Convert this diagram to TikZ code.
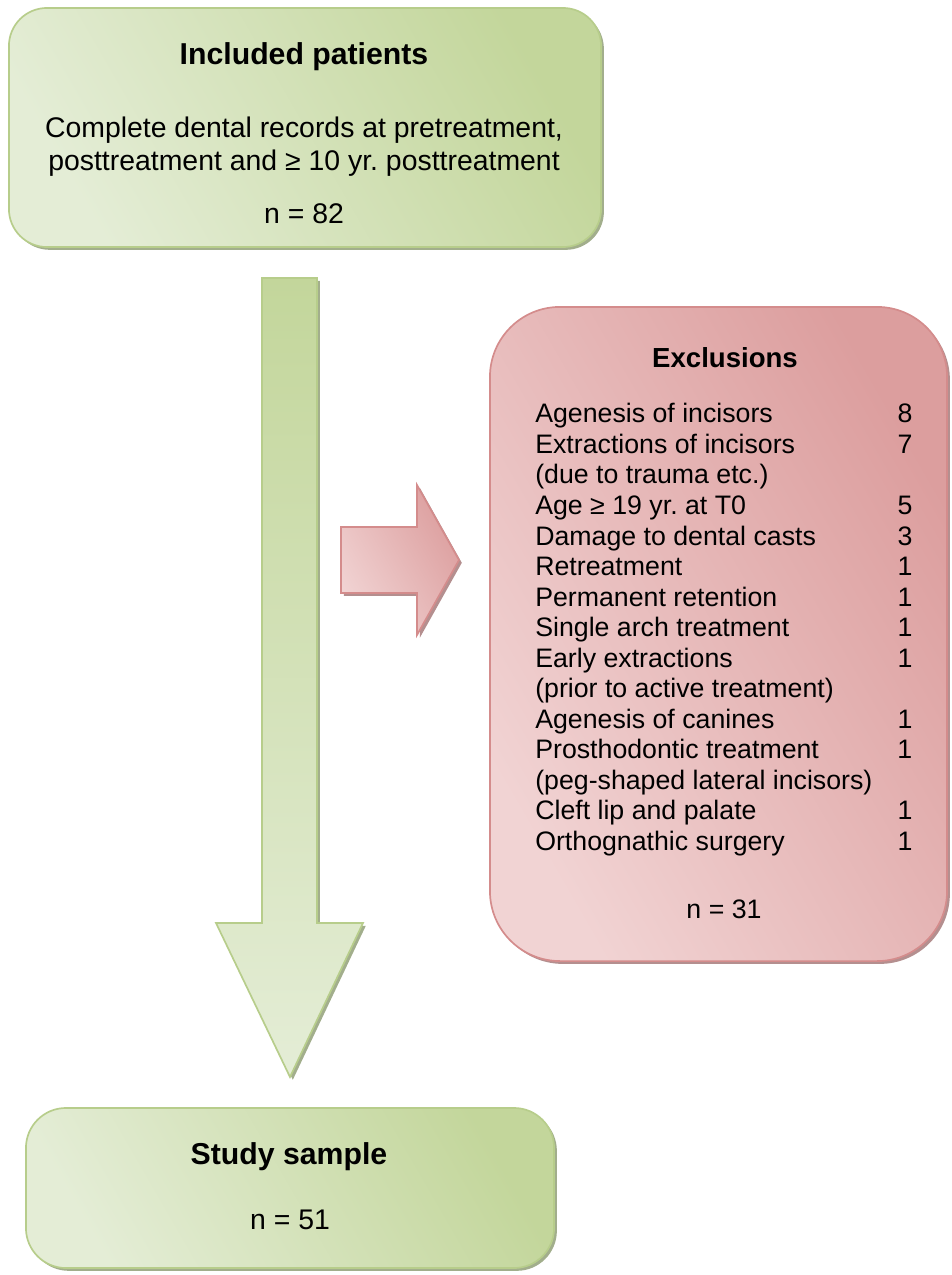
\documentclass[tikz,border=0pt]{standalone}
\usepackage{fontspec}
\setmainfont{Liberation Sans}
\usetikzlibrary{shadows}
\frenchspacing

\definecolor{greenDark}{HTML}{C3D69B}
\definecolor{greenLight}{HTML}{E4EDD6}
\definecolor{greenLine}{HTML}{B7CD8B}
\definecolor{greenShadow}{HTML}{A2AE8C}
\definecolor{redDark}{HTML}{DC9E9E}
\definecolor{redLight}{HTML}{F1D3D3}
\definecolor{redLine}{HTML}{D48C8C}
\definecolor{redShadow}{HTML}{B48F8F}

\tikzset{
    greenbox/.style={draw=greenLine, line width=1.2pt, top color=greenDark, bottom color=greenLight,
        shading angle=-60, drop shadow={shadow xshift=0.07cm, shadow yshift=-0.07cm, fill=greenShadow, opacity=1}},
    redbox/.style={draw=redLine, line width=1.2pt, top color=redDark, bottom color=redLight,
        shading angle=-60, drop shadow={shadow xshift=0.07cm, shadow yshift=-0.07cm, fill=redShadow, opacity=1}},
    greentext/.style={font=\fontsize{20.2}{23}\selectfont, anchor=base, inner sep=0pt},
    greentitle/.style={greentext, font=\fontsize{21.5}{23}\selectfont\bfseries},
    redtext/.style={font=\fontsize{19}{21.7}\selectfont, anchor=base, inner sep=0pt},
    redtitle/.style={redtext, font=\fontsize{19.6}{21.7}\selectfont\bfseries}
}

\begin{document}
\begin{tikzpicture}[x=0.025cm, y=-0.025cm]

    \useasboundingbox (0,0) rectangle (952,1275);

    % Define the arrow points
    \coordinate (DownA) at (262,278);
    \coordinate (DownB) at (317,278);
    \coordinate (DownC) at (317,923);
    \coordinate (DownD) at (363,923);
    \coordinate (DownTip) at (290,1077);
    \coordinate (DownE) at (216,923);
    \coordinate (DownF) at (262,923);

    \coordinate (RightA) at (341,527);
    \coordinate (RightB) at (417,527);
    \coordinate (RightC) at (417,485);
    \coordinate (RightTip) at (459,560);
    \coordinate (RightD) at (417,635);
    \coordinate (RightE) at (417,593);
    \coordinate (RightF) at (341,593);

    % Draw the block arrows
    \path[greenbox, shading angle=0] (DownA) -- (DownB) -- (DownC) -- (DownD) -- (DownTip) -- (DownE) -- (DownF) -- cycle;
    \path[redbox] (RightA) -- (RightB) -- (RightC) -- (RightTip) -- (RightD) -- (RightE) -- (RightF) -- cycle;

    % Draw the boxes
    \node[greenbox, rounded corners=0.95cm, minimum width=14.8cm, minimum height=5.975cm] (Incl) at (305,127.5) {};
    \node[redbox, rounded corners=1.75cm, minimum width=11.425cm, minimum height=16.35cm] (Excl) at (718.5,634) {};
    \node[greenbox, rounded corners=1cm, minimum width=13.2cm, minimum height=4cm] (Study) at (290,1188) {};

    % Label the included patients
    \node[greentitle] (InclTitle) at (304,65) {Included patients};
    \node[greentext] (InclLineA) at (304,138) {Complete dental records at pretreatment,};
    \node[greentext] (InclLineB) at (304,170) {posttreatment and ≥ 10 yr. posttreatment};
    \node[greentext] (InclN) at (304,223) {n = 82};

    % Label the exclusions
    \node[redtitle] (ExclTitle) at (725,367) {Exclusions};
    \node[redtext, anchor=north west] (ExclList) at (535,401.3) {%
        \begin{tabular}{@{}p{9.053cm}@{}r@{}}
            Agenesis of incisors & 8\\
            Extractions of incisors & 7\\
            (due to trauma etc.) & \\
            Age ≥ 19 yr. at T0 & 5\\
            Damage to dental casts & 3\\
            Retreatment & 1\\
            Permanent retention & 1\\
            Single arch treatment & 1\\
            Early extractions & 1\\
            (prior to active treatment) & \\
            Agenesis of canines & 1\\
            Prosthodontic treatment & 1\\
            (peg-shaped lateral incisors) & \\
            Cleft lip and palate & 1\\
            Orthognathic surgery & 1
        \end{tabular}};
    \node[redtext] (ExclN) at (724,918) {n = 31};

    % Label the study sample
    \node[greentitle] (StudyTitle) at (289,1164) {Study sample};
    \node[greentext] (StudyN) at (290,1229) {n = 51};

\end{tikzpicture}
\end{document}
